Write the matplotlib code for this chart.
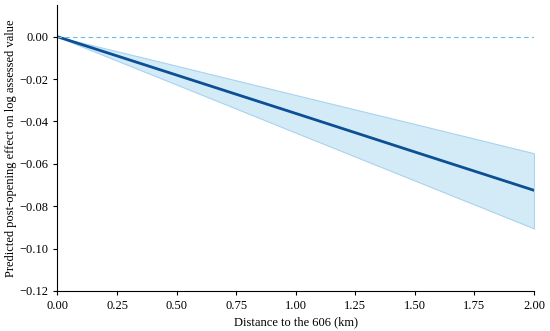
import numpy as np
import matplotlib
matplotlib.use('Agg')
import matplotlib.pyplot as plt

plt.rcParams['font.family'] = ['Liberation Serif', 'DejaVu Serif']

distance = [0.0, 0.5, 1.0, 1.5, 2.0]
effect = [0.0, -0.0181, -0.0362, -0.0544, -0.0725]
lower = [0.0, -0.0226, -0.0453, -0.0679, -0.0905]
upper = [0.0, -0.0137, -0.0275, -0.0412, -0.0550]

fig = plt.figure(figsize=(5.5, 3.31), dpi=100)
ax = fig.add_axes([0.1045, 0.121, 0.8665, 0.864])

ax.fill_between(distance, lower, upper, facecolor='#d3eaf7', edgecolor='#a9d3ee', linewidth=0.8)
ax.plot(distance, effect, color='#0b4f95', linewidth=2)
ax.axhline(0, color='#6cbae8', linestyle='--', linewidth=0.8, dashes=(4, 3))

ax.set_xlim(0, 2.0)
ax.set_ylim(-0.12, 0.015)
ax.set_xticks(np.arange(0, 2.01, 0.25))
ax.set_yticks(np.arange(-0.12, 0.001, 0.02))
ax.xaxis.set_major_formatter(plt.FuncFormatter(lambda v, p: f'{v:.2f}'))
ax.yaxis.set_major_formatter(plt.FuncFormatter(lambda v, p: f'{v:.2f}'.replace('-', '\u2212') if abs(v) > 1e-9 else '0.00'))
ax.tick_params(labelsize=9, direction='out', length=3, width=0.8)

for s in ['top', 'right']:
    ax.spines[s].set_visible(False)
for s in ['left', 'bottom']:
    ax.spines[s].set_linewidth(0.8)

ax.set_xlabel('Distance to the 606 (km)', fontsize=9, labelpad=3)
ax.set_ylabel('Predicted post-opening effect on log assessed value', fontsize=9, labelpad=2)

fig.savefig('out.png', dpi=100)
